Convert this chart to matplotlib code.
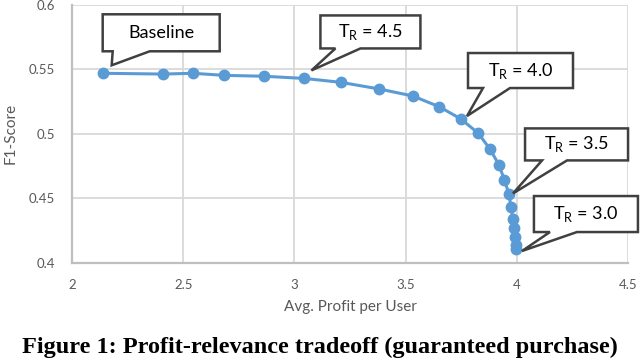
import matplotlib
matplotlib.use("Agg")
import matplotlib.pyplot as plt
import matplotlib.transforms as mtransforms
from matplotlib.patches import Polygon

# profit vs F1 as the threshold T_R changes
profit = [2.138, 2.411, 2.543, 2.685, 2.863, 3.045, 3.208, 3.382, 3.532, 3.652, 3.749,
          3.827, 3.880, 3.920, 3.944, 3.965, 3.974, 3.982, 3.987, 3.992, 3.995, 3.996]
f1 = [0.547, 0.5464, 0.547, 0.5454, 0.5447, 0.543, 0.540, 0.5348, 0.5294, 0.521, 0.5115,
      0.5004, 0.488, 0.4758, 0.4642, 0.453, 0.443, 0.434, 0.4267, 0.4202, 0.4137, 0.4106]

xticks = [2, 2.5, 3, 3.5, 4, 4.5]
xticklabels = ["2", "2.5", "3", "3.5", "4", "4.5"]
yticks = [0.4, 0.45, 0.5, 0.55, 0.6]
yticklabels = ["0.4", "0.45", "0.5", "0.55", "0.6"]

callout_text = ["Baseline", "T$_\\mathregular{R}$ = 4.5", "T$_\\mathregular{R}$ = 4.0",
                "T$_\\mathregular{R}$ = 3.5", "T$_\\mathregular{R}$ = 3.0"]
callout_idx = [0, 5, 10, 15, 21]

# callout layout in pixels relative to the marker: box (left, right, bottom, top),
# wedge base (left, right) on the box bottom, wedge tip
box = [(0, 117, 22, 59), (16, 116, 30, 63), (7, 112, 31, 66), (16, 119, 34, 66), (18, 122, 17, 53)]
base = [(10, 47), (31, 56), (22, 49), (33, 58), (34, 61)]
tip = [(9, 8), (7, 8), (6, 3), (4, 1), (6, -2)]

plt.rcParams["font.family"] = ["Lato", "DejaVu Sans"]
grey = "#595959"

fig = plt.figure(figsize=(6.4, 3.62), dpi=100)
ax = fig.add_axes([0.1125, 0.2743, 0.8688, 0.7119])

ax.plot(profit, f1, color="#5B9BD5", lw=2.2, marker="o", ms=7.5, zorder=3, clip_on=False)

ax.set_xlim(2, 4.5)
ax.set_ylim(0.4, 0.6)
ax.set_xticks(xticks)
ax.set_xticklabels(xticklabels)
ax.set_yticks(yticks)
ax.set_yticklabels(yticklabels)
ax.tick_params(length=0, colors=grey, labelsize=9.5)
ax.tick_params(axis="x", pad=12)
ax.tick_params(axis="y", pad=12)
ax.grid(True, color="#D9D9D9", lw=1.3)
ax.set_axisbelow(True)
for s in ["top", "right"]:
    ax.spines[s].set_visible(False)
for s in ["left", "bottom"]:
    ax.spines[s].set_color("#BFBFBF")
    ax.spines[s].set_linewidth(1.6)

ax.set_xlabel("Avg. Profit per User", color=grey, fontsize=11, labelpad=6)
ax.set_ylabel("F1-Score", color=grey, fontsize=11, labelpad=8)

for txt, i, (l, r, b, t), (bl, br), (tx, ty) in zip(callout_text, callout_idx, box, base, tip):
    # pixel offsets anchored at the data point
    trans = mtransforms.Affine2D() + mtransforms.ScaledTranslation(profit[i], f1[i], ax.transData)
    verts = [(l, b), (bl, b), (tx, ty), (br, b), (r, b), (r, t), (l, t)]
    ax.add_patch(Polygon(verts, closed=True, transform=trans, fc="white", ec="#404040",
                         lw=1.8, joinstyle="miter", zorder=5, clip_on=False))
    ax.text((l + r) / 2, (b + t) / 2, txt, transform=trans, ha="center", va="center",
            fontsize=13, color="black", zorder=6)

fig.text(0.5, 0.041, "Figure 1: Profit-relevance tradeoff (guaranteed purchase)",
         ha="center", va="center", fontsize=17.5, fontweight="bold", family="Liberation Serif")

fig.savefig("out.png", dpi=100)
